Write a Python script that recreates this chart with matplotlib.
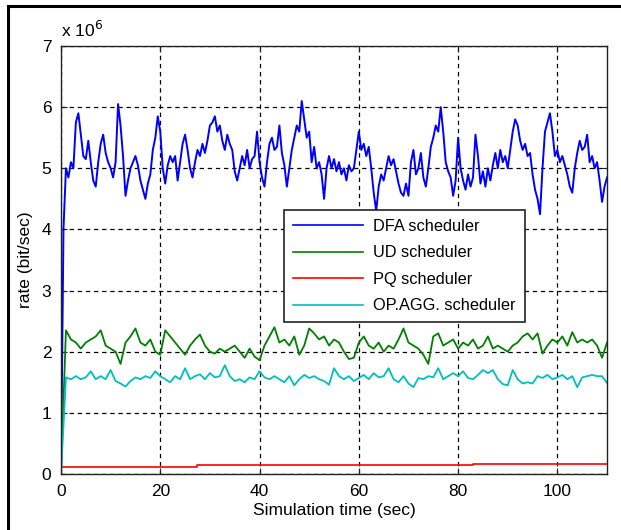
import numpy as np
import matplotlib
matplotlib.use("Agg")
import matplotlib.pyplot as plt
from matplotlib.lines import Line2D

plt.rcParams['font.family'] = ['Liberation Sans', 'DejaVu Sans']

# rates in units of 1e6 bit/sec
# DFA: sampled every 0.5 sec
dfa = [0.0, 4.0, 5.0, 4.85, 5.1, 5.0, 5.75, 5.9, 5.55, 5.2,
       5.15, 5.45, 5.1, 4.8, 4.7, 5.1, 5.4, 5.55, 5.25, 5.1,
       5.0, 4.85, 5.1, 6.05, 5.7, 5.2, 4.55, 4.8, 5.0, 5.1,
       5.2, 5.05, 4.8, 4.65, 4.5, 4.75, 4.9, 5.3, 5.5, 5.85,
       5.6, 5.0, 4.75, 5.05, 5.2, 5.1, 5.2, 4.8, 5.1, 5.4,
       5.55, 5.3, 5.0, 4.85, 5.1, 5.3, 5.2, 5.4, 5.25, 5.45,
       5.7, 5.75, 5.85, 5.6, 5.7, 5.45, 5.3, 5.55, 5.4, 5.3,
       4.95, 4.8, 5.0, 5.2, 5.05, 5.3, 5.0, 5.15, 5.2, 5.6,
       5.1, 4.85, 4.7, 5.1, 5.4, 5.5, 5.3, 5.35, 5.7, 5.25,
       5.05, 4.7, 5.0, 5.3, 5.5, 5.7, 5.6, 6.1, 5.8, 5.5,
       5.6, 5.1, 5.35, 5.0, 5.1, 4.9, 4.5, 5.0, 5.2, 5.0,
       5.15, 4.95, 5.1, 4.9, 5.0, 4.8, 5.05, 4.95, 5.0, 5.3,
       5.6, 5.3, 5.4, 5.2, 5.35, 5.0, 4.6, 4.3, 4.7, 4.9,
       4.8, 5.0, 5.2, 5.05, 5.15, 4.95, 4.75, 4.6, 4.55, 4.75,
       4.55, 5.1, 5.3, 4.9, 5.0, 5.25, 4.85, 4.7, 5.0, 5.35,
       5.5, 5.7, 5.6, 6.0, 5.6, 5.1, 4.95, 4.85, 4.55, 4.8,
       5.5, 5.0, 4.8, 4.65, 4.9, 4.7, 4.85, 5.55, 5.2, 4.75,
       4.95, 4.7, 5.0, 4.8, 5.05, 5.25, 5.0, 5.3, 5.1, 5.2,
       5.0, 5.3, 5.6, 5.8, 5.7, 5.45, 5.3, 5.4, 5.2, 5.25,
       4.9, 4.65, 4.5, 4.25, 5.0, 5.6, 5.75, 5.9, 5.6, 5.2,
       5.3, 5.1, 5.2, 5.05, 4.9, 4.7, 4.6, 5.0, 5.25, 5.45,
       5.3, 5.35, 5.55, 5.1, 5.2, 5.0, 5.1, 4.8, 4.45, 4.7,
       4.85]

# UD and OP.AGG.: sampled every 1 sec
ud = [0.0, 2.35, 2.2, 2.15, 2.05, 2.15, 2.2, 2.25, 2.35, 2.1,
      2.05, 2.0, 1.8, 2.15, 2.25, 2.38, 2.15, 2.1, 2.2, 2.0,
      1.95, 2.35, 2.25, 2.15, 2.05, 1.95, 2.1, 2.2, 2.28, 2.1,
      2.0, 1.97, 2.05, 2.0, 2.05, 2.1, 2.0, 1.9, 2.05, 1.92,
      1.86, 2.1, 2.25, 2.4, 2.15, 2.2, 2.1, 2.25, 1.95, 2.1,
      2.38, 2.3, 2.2, 2.25, 2.1, 2.2, 2.15, 2.0, 1.88, 1.9,
      2.15, 2.25, 2.1, 2.05, 2.15, 2.0, 2.1, 2.05, 2.2, 2.38,
      2.15, 2.1, 2.05, 1.95, 1.8, 2.25, 2.3, 2.1, 2.15, 2.2,
      2.05, 2.15, 2.1, 2.2, 2.05, 2.1, 2.25, 2.05, 2.1, 2.05,
      2.0, 2.1, 2.15, 2.25, 2.3, 2.2, 2.3, 1.97, 2.1, 2.2,
      2.15, 2.25, 2.1, 2.32, 2.15, 2.2, 2.15, 2.2, 2.1, 1.9,
      2.15]

opagg = [0.0, 1.58, 1.55, 1.6, 1.55, 1.58, 1.68, 1.55, 1.6, 1.55,
         1.7, 1.52, 1.48, 1.43, 1.52, 1.58, 1.55, 1.6, 1.57, 1.68,
         1.6, 1.55, 1.5, 1.6, 1.55, 1.73, 1.55, 1.6, 1.63, 1.55,
         1.65, 1.58, 1.6, 1.78, 1.6, 1.52, 1.55, 1.5, 1.58, 1.55,
         1.68, 1.58, 1.55, 1.6, 1.55, 1.5, 1.6, 1.45, 1.55, 1.62,
         1.57, 1.6, 1.55, 1.52, 1.46, 1.73, 1.6, 1.55, 1.6, 1.52,
         1.57, 1.62, 1.55, 1.65, 1.58, 1.6, 1.73, 1.55, 1.5, 1.6,
         1.48, 1.42, 1.57, 1.55, 1.6, 1.58, 1.73, 1.55, 1.6, 1.65,
         1.6, 1.68, 1.57, 1.55, 1.62, 1.7, 1.65, 1.7, 1.55, 1.47,
         1.45, 1.7, 1.55, 1.48, 1.5, 1.48, 1.6, 1.57, 1.62, 1.55,
         1.58, 1.62, 1.55, 1.6, 1.42, 1.58, 1.6, 1.62, 1.6, 1.6,
         1.49]

# PQ: piecewise constant
pq_t = [0, 27.5, 83, 110]
pq = [0.12, 0.14, 0.16, 0.16]

labels = ['DFA scheduler', 'UD scheduler', 'PQ scheduler', 'OP.AGG. scheduler']

t_dfa = np.linspace(0, 110, len(dfa))
t_ud = np.linspace(0, 110, len(ud))
t_op = np.linspace(0, 110, len(opagg))

fig = plt.figure(figsize=(6.21, 5.30), dpi=100)
ax = fig.add_axes([0.0982, 0.1057, 0.8793, 0.8075])

ax.plot(t_dfa, np.array(dfa) * 1e6, color=(0, 0, 1), lw=1.4, label=labels[0])
ax.plot(t_ud, np.array(ud) * 1e6, color=(0, 0.5, 0), lw=1.3, label=labels[1])
ax.plot(pq_t, np.array(pq) * 1e6, color=(1, 0, 0), lw=1.2,
        drawstyle='steps-post', label=labels[2])
ax.plot(t_op, np.array(opagg) * 1e6, color=(0, 0.75, 0.75), lw=1.3, label=labels[3])

ax.set_xlim(0, 110)
ax.set_ylim(0, 7e6)
ax.set_xticks([0, 20, 40, 60, 80, 100])
ax.set_yticks(np.arange(0, 8) * 1e6)
ax.set_yticklabels([str(i) for i in range(8)])
ax.tick_params(direction='in', top=True, right=True, length=4,
               labelsize=12.5, pad=7, color='#222222')
for s in ax.spines.values():
    s.set_linewidth(1.0)
    s.set_color('#222222')

ax.grid(True, color='black', linestyle=(0, (3.5, 3)), linewidth=0.9)

ax.set_xlabel('Simulation time (sec)', fontsize=12.5, labelpad=3)
ax.set_ylabel('rate (bit/sec)', fontsize=12.5, labelpad=6)
ax.text(0.0, 1.015, r'x 10$^{6}$', transform=ax.transAxes, fontsize=12.5,
        ha='left', va='bottom')

leg = ax.legend(loc='upper left', bbox_to_anchor=(0.408, 0.617), fontsize=11.8,
                handlelength=4.3, handletextpad=0.6, labelspacing=0.7,
                borderpad=0.55, borderaxespad=0, fancybox=False, framealpha=1)
leg.get_frame().set_edgecolor('#222222')
leg.get_frame().set_linewidth(1.2)
for h in leg.get_lines():
    h.set_linewidth(1.2)

# outer frame of the figure
fig.add_artist(Line2D([0.0129, 0.0129], [0.0, 0.9887], color='black', lw=2.2))
fig.add_artist(Line2D([0.0129, 1.0], [0.9887, 0.9887], color='black', lw=2.2))

fig.savefig('out.png', dpi=100)
